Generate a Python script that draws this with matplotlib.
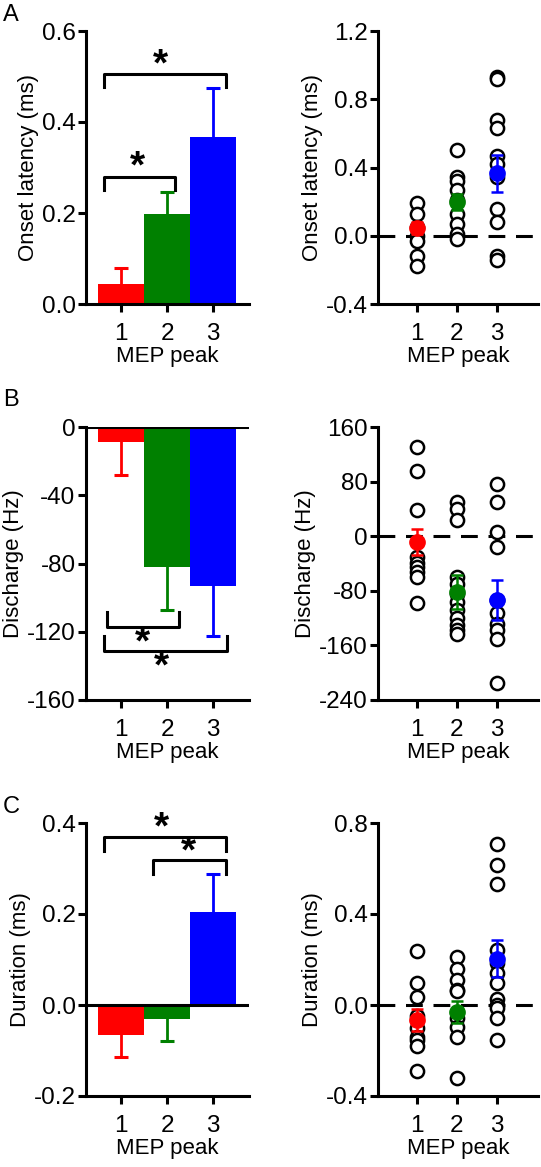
import numpy as np
import matplotlib.pyplot as plt

plt.rcParams['font.family'] = ['Liberation Sans', 'DejaVu Sans']
plt.rcParams['font.size'] = 16

peaks = [1, 2, 3]
tick_labels = ['1', '2', '3']
colors = ['#ff0000', '#008000', '#0000ff']

# A - onset latency (ms)
onset_mean = [0.044, 0.198, 0.367]
onset_sem = [0.035, 0.048, 0.108]
onset_p1 = [0.19, 0.13, 0.05, 0.0, -0.03, -0.12, -0.18]
onset_p2 = [0.50, 0.345, 0.32, 0.27, 0.21, 0.13, 0.07, 0.01, -0.02]
onset_p3 = [0.93, 0.92, 0.68, 0.63, 0.47, 0.42, 0.345, 0.155, 0.08, -0.12, -0.14]

# B - discharge (Hz)
disch_mean = [-9, -82, -93]
disch_sem = [19, 25, 29.5]
disch_p1 = [131, 96, 38, -30, -39, -45, -52, -60, -98]
disch_p2 = [50, 40, 24, -60, -70, -84, -96, -108, -120, -130, -138, -143]
disch_p3 = [76, 50, 6, -16, -94, -113, -128, -138, -150, -215]

# C - duration (ms)
dur_mean = [-0.066, -0.031, 0.204]
dur_sem = [0.049, 0.049, 0.083]
dur_p1 = [0.237, 0.095, 0.037, -0.05, -0.10, -0.14, -0.156, -0.18, -0.29]
dur_p2 = [0.21, 0.16, 0.11, 0.066, 0.06, -0.058, -0.095, -0.14, -0.32]
dur_p3 = [0.706, 0.614, 0.534, 0.241, 0.183, 0.142, 0.095, 0.025, 0.0, -0.015, -0.058, -0.156]

LW = 2.2


def style_axis(ax, ylim, yticks, yticklabels, ylabel):
    ax.spines['top'].set_visible(False)
    ax.spines['right'].set_visible(False)
    ax.spines['left'].set_linewidth(LW)
    ax.spines['bottom'].set_linewidth(LW)
    ax.set_ylim(ylim)
    ax.set_yticks(yticks)
    ax.set_yticklabels(yticklabels)
    ax.set_xticks(peaks)
    ax.set_xticklabels(tick_labels)
    ax.tick_params(width=LW, length=5.5, direction='out', labelsize=17.5)
    ax.tick_params(axis='y', pad=2)
    ax.tick_params(axis='x', pad=8)
    ax.set_xlabel('MEP peak', labelpad=1)
    ax.set_ylabel(ylabel, labelpad=2)


def bar_panel(ax, means, sems, ylim, yticks, yticklabels, ylabel, zero_line):
    ax.bar(peaks, means, width=1.0, color=colors, zorder=2)
    for x, m, s, c in zip(peaks, means, sems, colors):
        end = m + s if m >= 0 else m - s
        ax.plot([x, x], [m, end], color=c, lw=2, zorder=1)
        ax.plot([x], [end], marker='_', ms=10, mew=2.2, color=c, zorder=1)
    if zero_line:
        ax.axhline(0, color='k', lw=LW, zorder=3)
    ax.set_xlim(0.24, 3.78)
    style_axis(ax, ylim, yticks, yticklabels, ylabel)


def bracket(ax, x1, x2, y, leg, star_x, star_y):
    ax.plot([x1, x1, x2, x2], [y + leg, y, y, y + leg], color='k', lw=LW, clip_on=False)
    ax.text(star_x, star_y, '*', fontsize=28, fontweight='bold', ha='center', va='center')


def dot_panel(ax, groups, means, sems, ylim, yticks, yticklabels, ylabel):
    ax.axhline(0, color='k', lw=LW, ls=(0, (5.5, 3.5)), zorder=1)
    for x, pts in zip(peaks, groups):
        ax.plot([x] * len(pts), pts, 'o', mfc='white', mec='k', mew=1.8, ms=9.5, zorder=2)
    for x, m, s, c in zip(peaks, means, sems, colors):
        ax.errorbar([x], [m], yerr=[s], fmt='o', color=c, ms=11, lw=1.8, capsize=4.5,
                    capthick=1.8, zorder=3)
    ax.set_xlim(0.03, 4.03)
    style_axis(ax, ylim, yticks, yticklabels, ylabel)


fig = plt.figure(figsize=(5.41, 11.67), dpi=100)

left_x, left_w = 86 / 541, 163 / 541
right_x, right_w = 378 / 541, 160 / 541
h = 273 / 1167
rows = [1 - 304 / 1167, 1 - 700 / 1167, 1 - 1096 / 1167]

# row A
ax1 = fig.add_axes([left_x, rows[0], left_w, h])
bar_panel(ax1, onset_mean, onset_sem, (0, 0.6), [0, 0.2, 0.4, 0.6],
          ['0.0', '0.2', '0.4', '0.6'], 'Onset latency (ms)', False)
bracket(ax1, 0.63, 3.28, 0.505, -0.028, 1.85, 0.525)
bracket(ax1, 0.63, 2.17, 0.279, -0.028, 1.35, 0.300)

ax2 = fig.add_axes([right_x, rows[0], right_w, h])
dot_panel(ax2, [onset_p1, onset_p2, onset_p3], onset_mean, onset_sem, (-0.4, 1.2),
          [-0.4, 0, 0.4, 0.8, 1.2], ['-0.4', '0.0', '0.4', '0.8', '1.2'], 'Onset latency (ms)')

# row B
ax3 = fig.add_axes([left_x, rows[1], left_w, h])
bar_panel(ax3, disch_mean, disch_sem, (-160, 0), [-160, -120, -80, -40, 0],
          ['-160', '-120', '-80', '-40', '0'], 'Discharge (Hz)', True)
bracket(ax3, 0.70, 2.26, -117, 8.5, 1.46, -127)
bracket(ax3, 0.63, 3.30, -131, 8.5, 1.87, -141)

ax4 = fig.add_axes([right_x, rows[1], right_w, h])
dot_panel(ax4, [disch_p1, disch_p2, disch_p3], disch_mean, disch_sem, (-240, 160),
          [-240, -160, -80, 0, 80, 160], ['-240', '-160', '-80', '0', '80', '160'], 'Discharge (Hz)')

# row C
ax5 = fig.add_axes([left_x, rows[2], left_w, h])
bar_panel(ax5, dur_mean, dur_sem, (-0.2, 0.4), [-0.2, 0, 0.2, 0.4],
          ['-0.2', '0.0', '0.2', '0.4'], 'Duration (ms)', True)
bracket(ax5, 0.63, 3.28, 0.370, -0.031, 1.87, 0.388)
bracket(ax5, 1.70, 3.28, 0.318, -0.031, 2.46, 0.336)

ax6 = fig.add_axes([right_x, rows[2], right_w, h])
dot_panel(ax6, [dur_p1, dur_p2, dur_p3], dur_mean, dur_sem, (-0.4, 0.8),
          [-0.4, 0, 0.4, 0.8], ['-0.4', '0.0', '0.4', '0.8'], 'Duration (ms)')

for label, ypix in zip(['A', 'B', 'C'], [4, 389, 796]):
    fig.text(3 / 541, 1 - ypix / 1167, label, fontsize=17, ha='left', va='top')

fig.savefig('out.png', dpi=100)
